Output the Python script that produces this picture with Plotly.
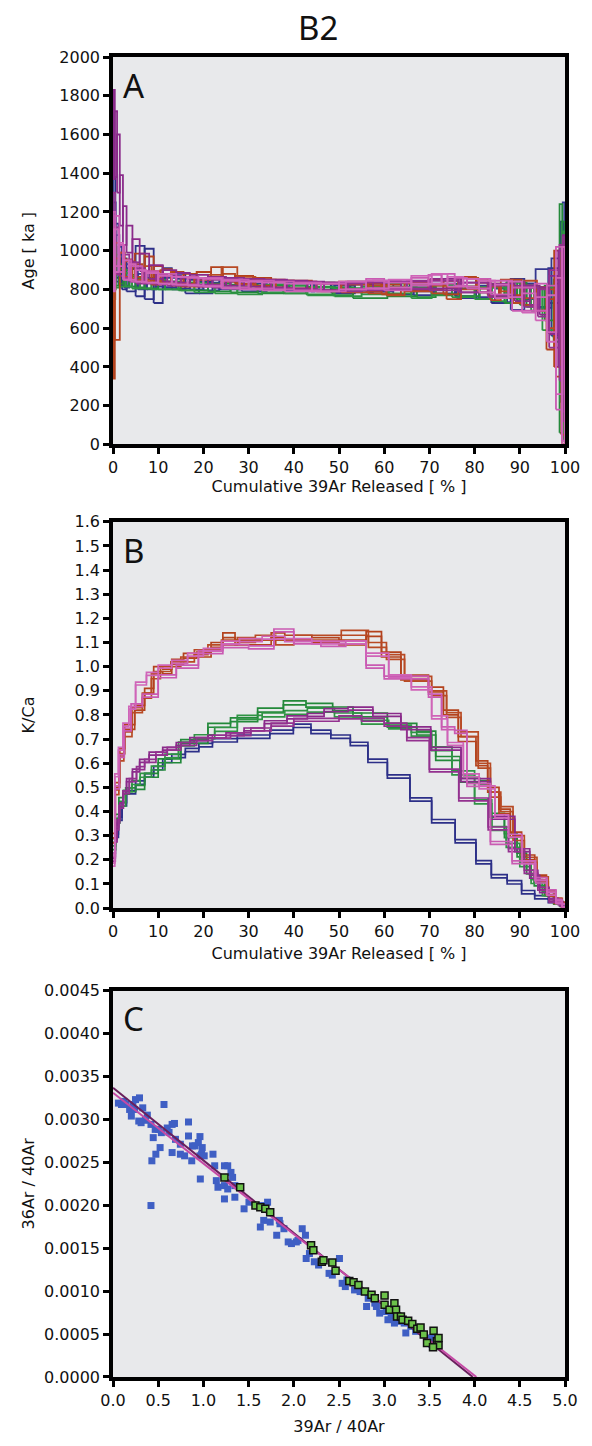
import plotly.graph_objects as go

# ---------------- Panel A / B : step-heating spectra ----------------
# cumulative 39Ar right edges of steps (%), age (ka), age 1-sigma (ka), K/Ca
BL1_EDGES = [0.5, 1.2, 2.0, 3.0, 5.0, 7.0, 9.0, 11.0, 13.0, 16.0, 19.0, 22.0, 27.5, 34.7, 39.9, 43.8, 48.2, 52.5, 56.4, 60.7, 65.7, 70.5, 75.7, 80.3, 83.7, 87.2, 90.4, 93.3, 96.3, 99.0, 99.6, 100]
BL1_AGE = [1150, 1000, 920, 880, 850, 895, 880, 825, 860, 840, 820, 810, 835, 825, 815, 820, 810, 805, 815, 800, 820, 810, 800, 790, 780, 770, 800, 790, 760, 820, 900, 600]
BL1_AGE_ERR = [230, 140, 100, 80, 60, 130, 130, 95, 50, 40, 40, 30, 25, 25, 20, 20, 20, 20, 20, 20, 20, 20, 25, 25, 30, 40, 40, 40, 50, 90, 250, 450]
BL1_KCA = [0.22, 0.30, 0.37, 0.43, 0.48, 0.52, 0.55, 0.58, 0.61, 0.63, 0.655, 0.675, 0.695, 0.71, 0.73, 0.755, 0.73, 0.71, 0.68, 0.61, 0.545, 0.45, 0.36, 0.277, 0.19, 0.132, 0.107, 0.066, 0.045, 0.03, 0.02, 0.015]

# second blue run: age spectrum only (its K/Ca is not plotted)
BL2_EDGES = [0.6, 1.4, 2.4, 3.6, 5.5, 7.5, 9.5, 11.5, 14.0, 17.0, 20.0, 23.5, 28.5, 34.0, 39.0, 44.5, 49.0, 53.5, 57.5, 62.0, 66.5, 71.0, 76.0, 81.0, 84.5, 88.0, 91.0, 93.5, 97.0, 99.5, 100]
BL2_AGE = [1050, 960, 900, 870, 860, 840, 830, 845, 835, 830, 825, 815, 820, 810, 820, 810, 815, 800, 805, 810, 795, 790, 805, 780, 790, 770, 775, 790, 805, 760, 950]
BL2_AGE_ERR = [200, 120, 80, 60, 45, 40, 30, 30, 25, 25, 25, 20, 20, 20, 20, 20, 20, 20, 20, 20, 20, 20, 25, 25, 30, 35, 80, 40, 100, 200, 300]

GR1_EDGES = [0.5, 1.3, 2.3, 3.6, 5.0, 7.0, 10.0, 15.0, 21.0, 26.0, 32.0, 37.7, 42.7, 48.6, 53.1, 60.7, 67.2, 71.4, 76.8, 81.1, 83.3, 86.6, 89.4, 91.5, 93.2, 95.5, 97.5, 98.8, 99.4, 100]
GR1_AGE = [1000, 900, 880, 860, 845, 835, 830, 820, 815, 810, 805, 800, 800, 795, 790, 780, 790, 785, 800, 790, 780, 795, 770, 790, 760, 750, 730, 700, 650, 600]
GR1_AGE_ERR = [140, 80, 50, 40, 30, 25, 25, 20, 20, 20, 20, 20, 20, 20, 20, 25, 25, 25, 25, 25, 30, 30, 40, 45, 50, 60, 90, 150, 590, 550]
GR1_KCA = [0.28, 0.38, 0.45, 0.48, 0.49, 0.50, 0.55, 0.61, 0.69, 0.757, 0.78, 0.82, 0.85, 0.84, 0.825, 0.80, 0.757, 0.725, 0.62, 0.53, 0.52, 0.385, 0.30, 0.22, 0.15, 0.10, 0.06, 0.03, 0.018, 0.008]

GR2_EDGES = [0.6, 1.5, 2.8, 4.2, 6.0, 8.5, 11.5, 14.5, 18.0, 22.5, 27.5, 33.0, 38.0, 43.0, 49.0, 55.0, 61.0, 66.0, 70.5, 75.0, 80.0, 83.8, 87.0, 90.0, 92.5, 95.0, 97.5, 98.9, 99.6, 100]
GR2_AGE = [920, 880, 860, 850, 835, 830, 825, 820, 815, 805, 800, 795, 805, 800, 790, 785, 795, 805, 780, 795, 785, 780, 775, 795, 770, 750, 700, 680, 620, 560]
GR2_AGE_ERR = [120, 70, 45, 35, 30, 25, 25, 20, 20, 20, 20, 20, 20, 20, 20, 20, 20, 25, 25, 25, 25, 30, 35, 40, 50, 60, 110, 150, 400, 540]
GR2_KCA = [0.25, 0.36, 0.43, 0.49, 0.52, 0.55, 0.58, 0.63, 0.68, 0.71, 0.74, 0.79, 0.80, 0.81, 0.82, 0.80, 0.77, 0.75, 0.72, 0.66, 0.56, 0.44, 0.33, 0.26, 0.18, 0.11, 0.06, 0.025, 0.015, 0.01]

OR1_EDGES = [0.4, 1.5, 2.6, 4.8, 7.0, 9.0, 11.0, 13.0, 15.6, 18.5, 21.7, 24.3, 27.0, 31.0, 35.0, 38.0, 44.0, 50.0, 56.0, 59.4, 63.7, 69.8, 73.1, 76.4, 80.3, 82.9, 85.4, 87.9, 90.4, 93.3, 95.9, 97.6, 99.2, 100]
OR1_AGE = [640, 750, 930, 900, 925, 910, 880, 870, 860, 855, 870, 890, 860, 850, 840, 830, 825, 815, 820, 810, 800, 815, 825, 810, 840, 830, 800, 790, 810, 770, 750, 620, 700, 500]
OR1_AGE_ERR = [300, 210, 60, 45, 60, 60, 40, 35, 30, 25, 20, 25, 20, 20, 20, 20, 20, 20, 20, 20, 25, 20, 25, 35, 25, 25, 30, 35, 40, 50, 60, 130, 300, 450]
OR1_KCA = [0.30, 0.51, 0.65, 0.75, 0.83, 0.90, 0.99, 0.98, 1.02, 1.045, 1.05, 1.09, 1.13, 1.10, 1.10, 1.13, 1.12, 1.11, 1.10, 1.135, 1.05, 0.955, 0.905, 0.81, 0.70, 0.60, 0.49, 0.40, 0.305, 0.21, 0.127, 0.065, 0.03, 0.015]

OR2_EDGES = [0.5, 1.3, 2.4, 4.2, 6.5, 8.5, 10.5, 12.8, 15.0, 18.0, 21.0, 24.0, 27.5, 31.5, 36.0, 40.0, 45.0, 50.5, 56.5, 60.5, 64.5, 70.5, 73.8, 77.0, 80.8, 83.5, 85.8, 88.5, 91.0, 93.8, 96.3, 98.0, 99.4, 100]
OR2_AGE = [900, 960, 940, 910, 890, 880, 860, 870, 845, 840, 835, 850, 880, 845, 830, 825, 820, 810, 805, 800, 790, 810, 800, 780, 830, 810, 780, 820, 770, 800, 750, 700, 600, 400]
OR2_AGE_ERR = [150, 80, 50, 45, 40, 40, 35, 30, 25, 25, 20, 25, 35, 20, 20, 20, 20, 20, 20, 20, 20, 20, 20, 30, 30, 25, 35, 30, 40, 45, 60, 100, 250, 400]
OR2_KCA = [0.28, 0.48, 0.62, 0.72, 0.82, 0.88, 0.96, 0.99, 1.01, 1.03, 1.06, 1.08, 1.10, 1.11, 1.12, 1.10, 1.12, 1.12, 1.14, 1.09, 1.04, 0.95, 0.89, 0.80, 0.72, 0.59, 0.47, 0.41, 0.29, 0.20, 0.12, 0.06, 0.03, 0.012]

PU1_EDGES = [0.4, 0.9, 1.5, 2.2, 3.0, 4.3, 5.9, 8.0, 11.0, 14.0, 17.0, 21.0, 25.0, 29.0, 33.5, 38.5, 43.0, 46.7, 52.0, 57.5, 63.7, 70.3, 77.0, 83.5, 88.9, 92.2, 94.4, 96.5, 98.5, 99.5, 100]
PU1_AGE = [1600, 1550, 1450, 1260, 1130, 1060, 1000, 940, 890, 870, 860, 850, 845, 840, 835, 830, 825, 820, 815, 820, 825, 820, 830, 810, 800, 780, 770, 740, 720, 700, 600]
PU1_AGE_ERR = [230, 170, 150, 130, 100, 70, 60, 45, 35, 30, 25, 25, 20, 20, 20, 20, 20, 20, 20, 20, 20, 20, 25, 25, 30, 40, 50, 70, 150, 300, 480]
PU1_KCA = [0.20, 0.28, 0.36, 0.43, 0.48, 0.53, 0.57, 0.61, 0.64, 0.66, 0.68, 0.70, 0.71, 0.72, 0.74, 0.77, 0.79, 0.80, 0.82, 0.826, 0.80, 0.745, 0.66, 0.53, 0.374, 0.24, 0.13, 0.07, 0.035, 0.02, 0.012]

PU2_EDGES = [0.5, 1.3, 2.3, 3.6, 5.2, 7.0, 9.5, 12.0, 15.0, 18.5, 22.0, 26.0, 30.5, 35.0, 40.0, 45.0, 50.0, 55.0, 60.0, 65.0, 70.0, 76.5, 83.0, 87.5, 91.0, 94.0, 96.5, 98.8, 99.5, 100]
PU2_AGE = [1100, 1000, 950, 920, 890, 870, 860, 850, 845, 840, 835, 830, 825, 820, 825, 820, 815, 810, 815, 820, 825, 820, 810, 790, 800, 760, 730, 700, 680, 620]
PU2_AGE_ERR = [200, 120, 80, 60, 50, 40, 30, 25, 25, 20, 20, 20, 20, 20, 20, 20, 20, 20, 20, 20, 20, 25, 25, 30, 40, 50, 70, 200, 350, 450]
PU2_KCA = [0.20, 0.33, 0.42, 0.48, 0.53, 0.58, 0.61, 0.64, 0.66, 0.68, 0.70, 0.71, 0.72, 0.74, 0.76, 0.78, 0.78, 0.79, 0.78, 0.76, 0.70, 0.57, 0.45, 0.33, 0.24, 0.15, 0.08, 0.03, 0.015, 0.01]

PK1_EDGES = [0.5, 1.4, 2.5, 4.0, 6.5, 10.0, 14.0, 18.9, 24.3, 30.0, 35.6, 40.0, 46.0, 51.5, 56.0, 60.0, 66.0, 69.8, 72.7, 75.6, 78.3, 83.5, 88.3, 93.3, 96.0, 98.0, 99.3, 100]
PK1_AGE = [1000, 1050, 960, 900, 880, 865, 855, 845, 840, 830, 825, 820, 815, 810, 820, 830, 815, 840, 850, 855, 840, 830, 810, 750, 760, 700, 600, 520]
PK1_AGE_ERR = [200, 130, 70, 50, 40, 30, 25, 20, 20, 20, 20, 20, 20, 20, 20, 25, 20, 20, 25, 25, 20, 25, 35, 60, 70, 120, 420, 500]
PK1_KCA = [0.22, 0.50, 0.63, 0.74, 0.84, 0.88, 0.96, 1.00, 1.06, 1.085, 1.08, 1.15, 1.10, 1.09, 1.10, 1.00, 0.955, 0.955, 0.88, 0.745, 0.73, 0.51, 0.27, 0.19, 0.12, 0.07, 0.03, 0.012]

PK2_EDGES = [0.4, 1.2, 2.2, 3.5, 5.0, 7.4, 10.0, 13.0, 16.5, 20.0, 24.0, 28.0, 33.0, 38.0, 44.0, 50.0, 56.0, 61.0, 66.0, 70.5, 74.0, 77.5, 81.0, 84.5, 87.5, 90.5, 93.5, 96.0, 98.0, 99.4, 100]
PK2_AGE = [950, 1000, 980, 900, 890, 870, 860, 850, 845, 840, 835, 825, 820, 815, 810, 810, 820, 825, 830, 850, 855, 840, 835, 815, 790, 800, 730, 700, 650, 560, 500]
PK2_AGE_ERR = [160, 110, 60, 50, 40, 30, 25, 20, 20, 20, 20, 20, 20, 20, 20, 20, 20, 20, 20, 20, 25, 25, 20, 30, 35, 40, 50, 60, 120, 300, 520]
PK2_KCA = [0.18, 0.55, 0.66, 0.76, 0.83, 0.93, 0.97, 1.00, 1.02, 1.05, 1.07, 1.10, 1.11, 1.12, 1.11, 1.10, 1.10, 1.05, 0.96, 0.91, 0.79, 0.68, 0.55, 0.50, 0.38, 0.30, 0.19, 0.11, 0.06, 0.025, 0.01]

# K/Ca uncertainty (1 sigma) per sample (None = not plotted in panel B)
KCA_ERR = [0.007, None, 0.008, 0.008, 0.010, 0.010, 0.006, 0.006, 0.006, 0.006]

SAMPLE_EDGES = [BL1_EDGES, BL2_EDGES, GR1_EDGES, GR2_EDGES, OR1_EDGES, OR2_EDGES, PU1_EDGES, PU2_EDGES, PK1_EDGES, PK2_EDGES]
SAMPLE_AGE = [BL1_AGE, BL2_AGE, GR1_AGE, GR2_AGE, OR1_AGE, OR2_AGE, PU1_AGE, PU2_AGE, PK1_AGE, PK2_AGE]
SAMPLE_AGE_ERR = [BL1_AGE_ERR, BL2_AGE_ERR, GR1_AGE_ERR, GR2_AGE_ERR, OR1_AGE_ERR, OR2_AGE_ERR, PU1_AGE_ERR, PU2_AGE_ERR, PK1_AGE_ERR, PK2_AGE_ERR]
SAMPLE_KCA = [BL1_KCA, None, GR1_KCA, GR2_KCA, OR1_KCA, OR2_KCA, PU1_KCA, PU2_KCA, PK1_KCA, PK2_KCA]
SAMPLE_COLORS = ["#2c2f88", "#34378f", "#23893a", "#2f9444", "#b3421d", "#b84a24", "#8a2a8a", "#93318f", "#c95ab2", "#cf64b8"]

# ---------------- Panel C : inverse isochron ----------------
BLUE_X = [0.094, 0.141, 0.184, 0.220, 0.249, 0.293, 0.203, 0.239, 0.285, 0.329, 0.311, 0.420, 0.445, 0.467, 0.502, 0.474, 0.430, 0.535, 0.564, 0.521,
          0.654, 0.680, 0.654, 0.691, 0.745, 0.745, 0.792, 0.835, 0.835, 0.879, 0.871, 0.908, 0.944, 0.962, 0.962, 0.987, 0.980, 1.009, 0.966, 1.106,
          1.125, 1.143, 1.161, 1.233, 1.269, 1.305, 1.323, 1.233, 1.269, 1.233, 1.348, 1.348, 1.450, 1.504, 1.594, 1.667, 1.710, 1.667, 1.840, 0.420,
          1.630, 1.739, 1.811, 1.847, 1.891, 1.938, 1.974, 2.028, 2.093, 2.129, 2.046, 2.137, 2.173, 2.227, 2.274, 2.390, 2.426, 2.505, 2.535, 2.570,
          2.588, 2.643, 2.672, 2.733, 2.787, 2.823, 2.805, 2.896, 2.914, 2.950, 3.023, 3.041, 3.077, 3.113, 3.150, 3.221, 3.239, 3.294, 3.348, 3.402,
          3.474, 3.492, 3.528, 3.546, 0.060, 0.120, 0.360, 0.380, 0.600, 0.620]
BLUE_Y = [0.003174, 0.003174, 0.003116, 0.003174, 0.003231, 0.003251, 0.003039, 0.003116, 0.002981, 0.003135, 0.002962, 0.002942, 0.002788, 0.002884, 0.002884, 0.002595, 0.002518, 0.002846, 0.003174, 0.002672,
          0.002942, 0.002953, 0.002614, 0.002768, 0.002711, 0.002595, 0.002576, 0.002970, 0.002807, 0.002692, 0.002518, 0.002692, 0.002730, 0.002800, 0.002576, 0.002672, 0.002595, 0.002576, 0.002306, 0.002595,
          0.002460, 0.002287, 0.002210, 0.002460, 0.002460, 0.002383, 0.002325, 0.002229, 0.002190, 0.002074, 0.002229, 0.002094, 0.001959, 0.002036, 0.001997, 0.001997, 0.002036, 0.001824, 0.001824, 0.001997,
          0.001747, 0.001805, 0.001651, 0.001785, 0.001727, 0.001573, 0.001554, 0.001573, 0.001727, 0.001651, 0.001590, 0.001380, 0.001438, 0.001342, 0.001304, 0.001207, 0.001187, 0.001380, 0.001091, 0.001053,
          0.001130, 0.001111, 0.001014, 0.000995, 0.000995, 0.000917, 0.000821, 0.000860, 0.000821, 0.000744, 0.000763, 0.000667, 0.000706, 0.000628, 0.000648, 0.000628, 0.000513, 0.000590, 0.000532, 0.000551,
          0.000455, 0.000416, 0.000378, 0.000455, 0.003190, 0.003210, 0.002990, 0.003050, 0.002900, 0.002850]
GREEN_X = [1.233, 1.407, 1.576, 1.630, 1.685, 1.739, 2.191, 2.216, 2.310, 2.328, 2.426, 2.462, 2.614, 2.661, 2.715, 2.787, 2.860, 2.896, 3.004, 3.004,
           3.059, 3.113, 3.131, 3.142, 3.185, 3.203, 3.265, 3.311, 3.366, 3.402, 3.438, 3.546, 3.474, 3.583, 3.601, 3.540, 3.601]
GREEN_Y = [0.002325, 0.002210, 0.001998, 0.001978, 0.001959, 0.001920, 0.001535, 0.001477, 0.001342, 0.001361, 0.001334, 0.001238, 0.001119, 0.001104, 0.001072, 0.000995, 0.000957, 0.000917, 0.000949, 0.000841,
           0.000783, 0.000860, 0.000783, 0.000706, 0.000706, 0.000667, 0.000655, 0.000617, 0.000563, 0.000578, 0.000494, 0.000540, 0.000397, 0.000416, 0.000370, 0.000347, 0.000455]
ISO_DARK_X = [0.0, 3.98]
ISO_DARK_Y = [0.003370, 0.0]
ISO_PINK_X = [0.0, 4.02]
ISO_PINK_Y = [0.003310, 0.0]

AGE_TICKS = list(range(0, 2001, 200))
PCT_TICKS = list(range(0, 101, 10))
KCA_TICKS = [round(i * 0.1, 1) for i in range(17)]
RATIO_Y_TICKS = [round(i * 0.0005, 4) for i in range(10)]
RATIO_X_TICKS = [round(i * 0.5, 1) for i in range(11)]


def step_boxes(edges, vals, errs):
    assert len(edges) == len(vals) == len(errs)
    xs, ys = [], []
    left = 0.0
    for right, v, e in zip(edges, vals, errs):
        xs += [left, right, right, left, left, None]
        ys += [v - e, v - e, v + e, v + e, v - e, None]
        left = right
    return xs, ys


def step_line(edges, vals, offset):
    assert len(edges) == len(vals)
    xs = [0.0] + list(edges)
    ys = [v + offset for v in vals] + [vals[-1] + offset]
    return xs, ys


fig = go.Figure()

for edges, age, aerr, kca, kerr, col in zip(SAMPLE_EDGES, SAMPLE_AGE, SAMPLE_AGE_ERR, SAMPLE_KCA, KCA_ERR, SAMPLE_COLORS):
    xa, ya = step_boxes(edges, age, aerr)
    fig.add_trace(go.Scatter(x=xa, y=ya, mode="lines", line=dict(color=col, width=1.8),
                             xaxis="x", yaxis="y", showlegend=False, hoverinfo="skip"))
    if kca is None:
        continue
    for off in (kerr, -kerr):
        xb, yb = step_line(edges, kca, off)
        fig.add_trace(go.Scatter(x=xb, y=yb, mode="lines", line=dict(color=col, width=1.7, shape="hv"),
                                 xaxis="x2", yaxis="y2", showlegend=False, hoverinfo="skip"))

fig.add_trace(go.Scatter(x=BLUE_X, y=BLUE_Y, mode="markers",
                         marker=dict(symbol="square", size=7, color="#3f5fc4", line=dict(width=0)),
                         xaxis="x3", yaxis="y3", showlegend=False))
fig.add_trace(go.Scatter(x=ISO_DARK_X, y=ISO_DARK_Y, mode="lines", line=dict(color="#6a1f5c", width=2),
                         xaxis="x3", yaxis="y3", showlegend=False))
fig.add_trace(go.Scatter(x=ISO_PINK_X, y=ISO_PINK_Y, mode="lines", line=dict(color="#c54aa5", width=2),
                         xaxis="x3", yaxis="y3", showlegend=False))
fig.add_trace(go.Scatter(x=GREEN_X, y=GREEN_Y, mode="markers",
                         marker=dict(symbol="square", size=7, color="#6cc24a", line=dict(width=1.5, color="#111111")),
                         xaxis="x3", yaxis="y3", showlegend=False))

TICK_FONT = dict(family="DejaVu Sans", size=16, color="#111111")
TITLE_FONT = dict(family="DejaVu Sans", size=16, color="#111111")

axis_common = dict(showline=True, mirror=True, linecolor="black", linewidth=3.5,
                   ticks="outside", ticklen=6, tickwidth=3, tickcolor="black",
                   showgrid=False, zeroline=False, tickfont=TICK_FONT, title_font=TITLE_FONT)

fig.update_layout(
    width=592, height=1446,
    margin=dict(l=113, r=18, t=57, b=60),
    paper_bgcolor="white",
    plot_bgcolor="#e8e9eb",
    xaxis=dict(domain=[0, 1], anchor="y", range=[0, 100], tickvals=PCT_TICKS,
               title=dict(text="Cumulative 39Ar Released [ % ]", standoff=5), **axis_common),
    yaxis=dict(domain=[0.7065, 1.0], anchor="x", range=[0, 2000], tickvals=AGE_TICKS,
               title=dict(text="Age [ ka ]", standoff=22), **axis_common),
    xaxis2=dict(domain=[0, 1], anchor="y2", range=[0, 100], tickvals=PCT_TICKS,
                title=dict(text="Cumulative 39Ar Released [ % ]", standoff=9), **axis_common),
    yaxis2=dict(domain=[0.3552, 0.6479], anchor="x2", range=[0, 1.6], tickvals=KCA_TICKS, tickformat=".1f",
                title=dict(text="K/Ca", standoff=37), **axis_common),
    xaxis3=dict(domain=[0, 1], anchor="y3", range=[0, 5], tickvals=RATIO_X_TICKS, tickformat=".1f",
                title=dict(text="39Ar / 40Ar", standoff=13), **axis_common),
    yaxis3=dict(domain=[0, 0.2927], anchor="x3", range=[0, 0.0045], tickvals=RATIO_Y_TICKS, tickformat=".4f",
                title=dict(text="36Ar / 40Ar", standoff=6), **axis_common),
    annotations=[
        dict(text="B2", xref="paper", yref="paper", x=0.453, y=1.0226, xanchor="center", yanchor="middle",
             showarrow=False, font=dict(family="Noto Sans", size=33, color="#111111")),
        dict(text="A", xref="x domain", yref="y domain", x=0.018, y=0.99, xanchor="left", yanchor="top",
             showarrow=False, font=dict(family="Noto Sans", size=33, color="#111111")),
        dict(text="B", xref="x2 domain", yref="y2 domain", x=0.018, y=0.99, xanchor="left", yanchor="top",
             showarrow=False, font=dict(family="Noto Sans", size=33, color="#111111")),
        dict(text="C", xref="x3 domain", yref="y3 domain", x=0.018, y=0.99, xanchor="left", yanchor="top",
             showarrow=False, font=dict(family="Noto Sans", size=33, color="#111111")),
    ],
)

fig.write_html("out.html")
